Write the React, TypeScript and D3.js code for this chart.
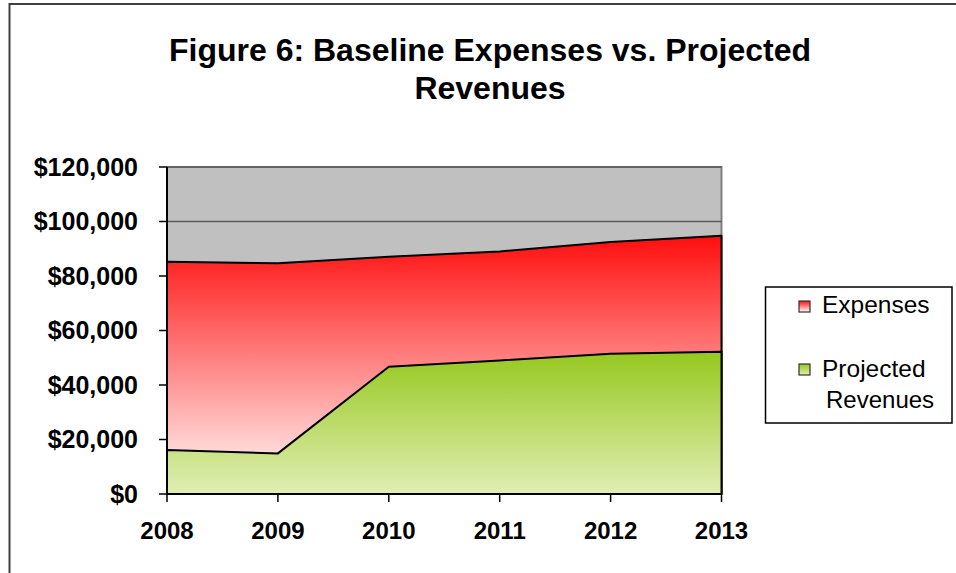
import React from "react";
import * as d3 from "d3";

const years = [2008, 2009, 2010, 2011, 2012, 2013];
const expenses = [85200, 84700, 87100, 89000, 92500, 94800];
const revenues = [16150, 14900, 46700, 49000, 51450, 52200];
const yTicks = [0, 20000, 40000, 60000, 80000, 100000, 120000];
const titleLines = ["Figure 6: Baseline Expenses vs. Projected", "Revenues"];
const legendItems = ["Expenses", "Projected Revenues"];

const W = 956;
const H = 573;
const FONT = "Arial, 'Liberation Sans', sans-serif";

export default function App() {
  const x = d3.scaleLinear().domain([2008, 2013]).range([167, 721.5]);
  const y = d3.scaleLinear().domain([0, 120000]).range([494, 167]);

  const expArea = d3
    .area<number>()
    .x((_, i) => x(years[i]))
    .y0(y(0))
    .y1((d) => y(d));
  const revArea = d3
    .area<number>()
    .x((_, i) => x(years[i]))
    .y0(y(0))
    .y1((d) => y(d));

  const fmt = (v: number) => "$" + d3.format(",")(v);

  return (
    <svg
      width={W}
      height={H}
      style={{ position: "absolute", left: 0, top: 0, background: "#fff" }}
      fontFamily={FONT}
    >
      <defs>
        <linearGradient id="gRed" x1="0" y1="0" x2="0" y2="1">
          <stop offset="0" stopColor="#ff0d0d" />
          <stop offset="1" stopColor="#ffffff" />
        </linearGradient>
        <linearGradient id="gGreen" x1="0" y1="0" x2="0" y2="1">
          <stop offset="0" stopColor="#96c81e" />
          <stop offset="1" stopColor="#e0eeb4" />
        </linearGradient>
      </defs>
      <rect x={0} y={0} width={W} height={H} fill="#fff" />
      {/* outer frame */}
      <rect x={9.5} y={4} width={980} height={620} fill="none" stroke="#404040" strokeWidth={2} />

      {/* title */}
      <text x={490} y={61} textAnchor="middle" fontSize={32} fontWeight="bold">
        {titleLines[0]}
      </text>
      <text x={490} y={99} textAnchor="middle" fontSize={32} fontWeight="bold">
        {titleLines[1]}
      </text>

      {/* plot background */}
      <rect x={x(2008)} y={y(120000)} width={x(2013) - x(2008)} height={y(0) - y(120000)} fill="#c0c0c0" stroke="#808080" strokeWidth={2} />
      {yTicks.slice(1).map((t) => (
        <line key={t} x1={x(2008)} x2={x(2013)} y1={y(t)} y2={y(t)} stroke="#5a5a5a" strokeWidth={1.5} />
      ))}

      {/* areas */}
      <path d={expArea(expenses) || ""} fill="url(#gRed)" stroke="#000" strokeWidth={2} strokeLinejoin="round" />
      <path d={revArea(revenues) || ""} fill="url(#gGreen)" stroke="#000" strokeWidth={2} strokeLinejoin="round" />

      {/* axes */}
      <line x1={x(2008)} x2={x(2008)} y1={y(120000)} y2={y(0)} stroke="#000" strokeWidth={2} />
      <line x1={x(2008)} x2={x(2013)} y1={y(0)} y2={y(0)} stroke="#000" strokeWidth={2} />
      {yTicks.map((t) => (
        <g key={t}>
          <line x1={x(2008) - 8} x2={x(2008)} y1={y(t)} y2={y(t)} stroke="#000" strokeWidth={1.5} />
          <text x={138} y={y(t) + 8.5} textAnchor="end" fontSize={25} fontWeight="bold">
            {fmt(t)}
          </text>
        </g>
      ))}
      {years.map((yr) => (
        <g key={yr}>
          <line x1={x(yr)} x2={x(yr)} y1={y(0)} y2={y(0) + 8} stroke="#000" strokeWidth={1.5} />
          <text x={x(yr)} y={539} textAnchor="middle" fontSize={24} fontWeight="bold">
            {yr}
          </text>
        </g>
      ))}

      {/* legend */}
      <rect x={765.5} y={287} width={186.5} height={136} fill="#fff" stroke="#000" strokeWidth={1.5} />
      <rect x={799} y={301} width={11} height={11} fill="url(#gRed)" stroke="#333" strokeWidth={1.2} />
      <text x={822} y={313} fontSize={24.5}>{legendItems[0]}</text>
      <rect x={799} y={364} width={11} height={11} fill="url(#gGreen)" stroke="#333" strokeWidth={1.2} />
      <text x={822} y={377} fontSize={24.5}>{legendItems[1].split(" ")[0]}</text>
      <text x={826} y={408} fontSize={24}>{legendItems[1].split(" ")[1]}</text>
    </svg>
  );
}
